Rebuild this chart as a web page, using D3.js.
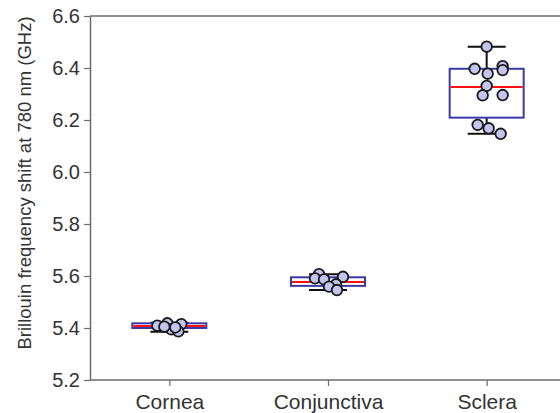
<!DOCTYPE html>
<html>
<head>
<meta charset="utf-8">
<script src="https://cdn.jsdelivr.net/npm/d3@7"></script>
<style>
  body { margin: 0; background: #fff; }
  svg text { font-family: "Liberation Sans", Arial, sans-serif; }
</style>
</head>
<body>
<div id="chart"></div>
<script>
// tissue categories
var categories = ["Cornea", "Conjunctiva", "Sclera"];

// box statistics (GHz)
var whiskerLow  = [5.386, 5.546, 6.147];
var q1          = [5.400, 5.562, 6.209];
var medians     = [5.408, 5.577, 6.327];
var q3          = [5.418, 5.595, 6.397];
var whiskerHigh = [5.420, 5.607, 6.482];

// individual measurements
var corneaVals      = [5.409, 5.418, 5.415, 5.395, 5.387, 5.405, 5.402];
var conjunctivaVals = [5.607, 5.591, 5.587, 5.597, 5.568, 5.559, 5.546];
var scleraVals      = [6.482, 6.397, 6.378, 6.407, 6.392, 6.331, 6.295, 6.296, 6.181, 6.168, 6.147];

var yTicks = [5.2, 5.4, 5.6, 5.8, 6.0, 6.2, 6.4, 6.6];

// horizontal scatter of the dots (px from the box centre)
var jitter = [
    [-12, -2, 12, 2, 9, -5, 6],
    [-9, -13, -4, 15, 8, 1, 9],
    [0, -12, 1, 16, 16, 0, -4, 16, -9, 2, 14]
];

var width = 560, height = 413;
var margin = {left: 90, right: 0, top: 16, bottom: 33};
var plotRight = 560;

var svg = d3.select("#chart").append("svg")
    .attr("width", width)
    .attr("height", height);

var y = d3.scaleLinear()
    .domain([5.2, 6.6])
    .range([height - margin.bottom, margin.top]);

var x = d3.scalePoint()
    .domain(categories)
    .range([margin.left, 566])
    .padding(0.5);

var axisColor = "#6d6d6d";
var textColor = "#333";

// top frame line
svg.append("line")
    .attr("x1", margin.left).attr("x2", plotRight)
    .attr("y1", y(6.6)).attr("y2", y(6.6))
    .style("stroke", axisColor).style("stroke-width", 1.5);

// y axis
var yAxis = svg.append("g")
    .attr("transform", "translate(" + margin.left + ",0)")
    .call(d3.axisLeft(y).tickValues(yTicks).tickFormat(d3.format(".1f")).tickSize(6).tickSizeOuter(0));
yAxis.select(".domain").style("stroke", axisColor).style("stroke-width", 1.5);
yAxis.selectAll(".tick line").style("stroke", axisColor).style("stroke-width", 1.2);
yAxis.selectAll(".tick text")
    .style("font-size", "20px")
    .style("fill", textColor)
    .attr("x", -10);

// x axis
var xAxis = svg.append("g")
    .attr("transform", "translate(0," + y(5.2) + ")")
    .call(d3.axisBottom(x).tickSize(6).tickSizeOuter(0));
xAxis.select(".domain")
    .attr("d", "M" + margin.left + ",0H" + plotRight)
    .style("stroke", axisColor).style("stroke-width", 1.5);
xAxis.selectAll(".tick line").style("stroke", axisColor).style("stroke-width", 1.2);
xAxis.selectAll(".tick text")
    .style("font-size", "21px")
    .style("fill", textColor)
    .attr("y", 14);

// y label
svg.append("text")
    .attr("transform", "translate(31,183) rotate(-90)")
    .style("text-anchor", "middle")
    .style("font-size", "18.5px")
    .style("fill", textColor)
    .text("Brillouin frequency shift at 780 nm (GHz)");

var boxW = 74, capW = 38;
var allVals = [corneaVals, conjunctivaVals, scleraVals];

categories.forEach(function (c, i) {
    var cx = x(c);
    var g = svg.append("g");

    // whiskers
    g.append("line")
        .attr("x1", cx).attr("x2", cx)
        .attr("y1", y(whiskerHigh[i])).attr("y2", y(q3[i]))
        .style("stroke", "#111").style("stroke-width", 2);
    g.append("line")
        .attr("x1", cx).attr("x2", cx)
        .attr("y1", y(q1[i])).attr("y2", y(whiskerLow[i]))
        .style("stroke", "#111").style("stroke-width", 2);
    [whiskerHigh[i], whiskerLow[i]].forEach(function (v) {
        g.append("line")
            .attr("x1", cx - capW / 2).attr("x2", cx + capW / 2)
            .attr("y1", y(v)).attr("y2", y(v))
            .style("stroke", "#111").style("stroke-width", 2);
    });

    // box
    g.append("rect")
        .attr("x", cx - boxW / 2)
        .attr("y", y(q3[i]))
        .attr("width", boxW)
        .attr("height", y(q1[i]) - y(q3[i]))
        .style("fill", "#fff")
        .style("stroke", "#3a3aa8")
        .style("stroke-width", 2);

    // median
    g.append("line")
        .attr("x1", cx - boxW / 2 + 1).attr("x2", cx + boxW / 2 - 1)
        .attr("y1", y(medians[i])).attr("y2", y(medians[i]))
        .style("stroke", "#ff1010").style("stroke-width", 2);

    // points
    g.selectAll("circle")
        .data(allVals[i])
        .enter().append("circle")
        .attr("cx", function (d, j) { return cx + jitter[i][j]; })
        .attr("cy", function (d) { return y(d); })
        .attr("r", 5.3)
        .style("fill", "#c4c4f0")
        .style("stroke", "#1a1a1a")
        .style("stroke-width", 1.8);
});
</script>
</body>
</html>
